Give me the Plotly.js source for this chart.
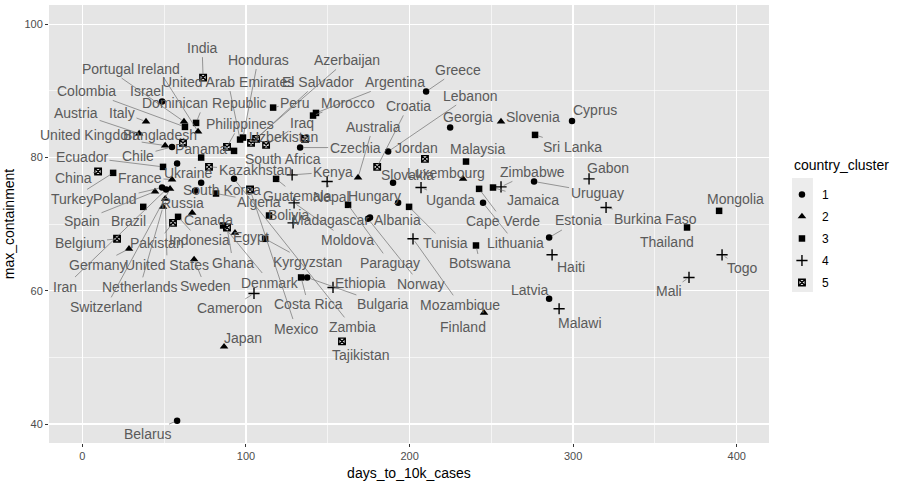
<!DOCTYPE html>
<html>
<head>
<meta charset="utf-8">
<script src="https://cdn.plot.ly/plotly-3.0.1.min.js"></script>
<style>html,body{margin:0;padding:0;background:#fff}#chart{width:898px;height:485px}</style>
</head>
<body>
<div id="chart"></div>
<script>
// ---- data ----
const countries = ["India","Portugal","Ireland","Honduras","Azerbaijan","United Arab Emirates","El Salvador","Argentina","Greece","Colombia",
"Israel","Dominican Republic","Peru","Morocco","Lebanon","Croatia","Austria","Italy","Philippines","Iraq",
"Georgia","Slovenia","Cyprus","United Kingdom","Bangladesh","Uzbekistan","Australia","Sri Lanka","Czechia","Jordan",
"Malaysia","Ecuador","Chile","Panama","South Africa","China","France","Ukraine","Kazakhstan","Kenya",
"Slovakia","Luxembourg","Zimbabwe","Gabon","Turkey","Poland","Russia","South Korea","Guatemala","Nepal",
"Hungary","Uganda","Jamaica","Uruguay","Algeria","Spain","Brazil","Canada","Bolivia","Madagascar",
"Albania","Cape Verde","Estonia","Burkina Faso","Mongolia","Belgium","Pakistan","Indonesia","Egypt","Moldova",
"Tunisia","Lithuania","Thailand","Germany","United States","Ghana","Kyrgyzstan","Paraguay","Botswana","Haiti",
"Togo","Iran","Netherlands","Sweden","Denmark","Ethiopia","Norway","Mozambique","Latvia","Mali",
"Switzerland","Cameroon","Costa Rica","Bulgaria","Malawi","Mexico","Zambia","Finland","Tajikistan","Japan","Belarus"];

const days_to_10k_cases = [73.8,62.1,70.7,98.2,103.1,96.4,106.2,142.8,210.1,62.7,
48.7,69.5,116.6,141.0,186.9,180.2,34.7,38.9,88.4,112.3,
224.8,255.9,299.3,50.6,61.5,136.1,168.5,276.7,133.1,209.4,
234.5,49.3,54.8,72.6,92.7,9.6,54.8,57.9,77.4,128.2,
189.9,232.7,255.9,309.7,18.8,48.7,68.9,72.6,118.4,149.6,
193.0,207.0,251.0,276.1,81.7,44.4,37.2,67.1,114.1,128.8,
175.8,242.5,285.3,320.1,389.2,21.2,55.4,58.5,93.3,129.4,
199.7,244.9,369.6,28.5,50.6,88.4,111.7,162.4,240.6,287.1,
391.0,51.2,49.3,68.3,86.0,153.2,174.6,202.1,285.3,370.8,
53.6,104.9,133.7,137.4,291.4,102.5,92.7,245.5,158.7,86.6,57.9];

const max_containment = [92.0,85.4,83.9,83.0,82.2,82.7,82.8,86.7,89.9,84.6,
88.4,85.2,87.5,86.3,80.9,78.6,83.6,85.4,81.6,81.9,
84.5,85.4,85.5,81.8,82.2,82.8,77.0,83.4,81.5,79.8,
79.4,78.6,81.6,80.0,81.0,77.9,76.7,79.1,78.6,77.4,
76.2,76.8,75.6,76.8,77.7,75.5,75.0,76.2,76.8,76.4,
73.2,75.5,75.5,76.4,74.6,74.9,72.6,71.7,71.3,70.2,
71.0,75.3,68.0,72.5,72.0,67.8,70.2,71.1,68.7,73.2,
72.6,73.2,69.5,66.3,73.8,69.5,67.8,72.9,66.8,65.4,
65.4,75.2,72.6,64.7,69.8,60.5,70.8,67.8,58.8,62.0,
75.3,59.6,62.0,62.0,57.3,75.2,76.8,56.7,52.4,51.6,40.5];

const country_cluster = [5,2,2,3,5,3,5,3,1,3,
1,3,3,3,1,5,2,2,5,5,
1,2,1,2,5,5,2,3,1,5,
3,3,1,3,3,5,2,1,5,4,
1,2,4,4,3,1,1,1,3,4,
1,4,3,1,3,2,3,2,3,4,
1,3,1,4,3,5,5,3,2,4,
3,1,3,2,2,5,3,3,3,4,
4,1,2,2,3,4,1,4,1,4,
2,4,3,1,4,5,1,2,5,2,1];

const cluster_levels = ["1","2","3","4","5"];
const x_ticks = [0,100,200,300,400];
const y_ticks = [40,60,80,100];

// ---- label placement (pixel offsets of repelled labels from their points) ----
const label_dx = [-1,-76,-40,15,96,-12,62,79,32,-98,
-15,8,22,35,82,31,-63,-24,13,36,
18,32,23,-75,-23,-22,15,37,55,-8,
11,-81,-34,0,49,-25,-32,11,46,41,
14,-17,31,19,-41,-47,-13,21,21,4,
-24,29,40,63,43,-73,-15,16,19,37,
28,24,29,49,16,-37,-16,21,16,53,
36,32,-20,-31,2,6,42,42,4,19,
20,-101,-23,11,47,27,52,47,-19,-20,
-64,-24,7,76,21,46,118,-21,19,19,-30];
const label_dy = [-30,-53,-63,-78,-83,-58,-57,-31,-22,-36,
-11,-20,-5,-13,-56,-61,-21,-9,-23,-22,
-11,-5,-11,-11,-8,-2,-51,12,0,-11,
-13,-10,9,-9,8,6,-2,9,3,-3,
-8,-6,-15,-11,26,11,12,7,17,15,
-7,12,12,11,8,29,14,7,-1,-3,
2,32,-17,11,-12,4,20,23,4,37,
36,40,14,16,66,35,23,58,18,12,
13,97,80,27,57,-4,65,66,-9,14,
118,15,27,27,14,139,148,14,14,-9,13];

const symbols = {"1":"circle","2":"triangle-up","3":"square","4":"cross-thin","5":"square-x-open"};
const sizes = {"1":6.5,"2":7.5,"3":6.5,"4":8,"5":6.5};

const traces = cluster_levels.map(function(lv){
  const xs=[], ys=[], tx=[];
  country_cluster.forEach(function(c,i){ if(String(c)===lv){ xs.push(days_to_10k_cases[i]); ys.push(max_containment[i]); tx.push(countries[i]); }});
  const open = (lv==="4"||lv==="5");
  return {
    type:"scatter", mode:"markers", x:xs, y:ys, text:tx, name:lv,
    legendgroup:"g"+lv,
    marker:{symbol:symbols[lv], size:sizes[lv], color:"#000",
            line:{color:"#000", width: open?1.4:0}},
    hoverinfo:"text+x+y", cliponaxis:false
  };
});

const annotations = countries.map(function(name,i){
  const dx = label_dx[i], dy = label_dy[i];
  const hw = 3.6*name.length, hh = 8;
  const gx = Math.max(0, Math.abs(dx)-hw), gy = Math.max(0, Math.abs(dy)-hh);
  const far = Math.sqrt(gx*gx+gy*gy) > 6;
  return {
    x: days_to_10k_cases[i], y: max_containment[i], xref:"x", yref:"y",
    text: name, showarrow:true, ax: dx, ay: dy, axref:"pixel", ayref:"pixel",
    arrowhead:0, arrowwidth:0.7, standoff:3,
    arrowcolor: far ? "#707070" : "rgba(0,0,0,0)",
    font:{family:"Liberation Sans, Arial, sans-serif", size:14, color:"#5a5a5a"}
  };
});
annotations.push({
  xref:"paper", yref:"paper", x:1.032, y:0.635, xanchor:"left", yanchor:"middle",
  text:"country_cluster", showarrow:false,
  font:{family:"Liberation Sans, Arial, sans-serif", size:14, color:"#000"}
});

const layout = {
  width:898, height:485,
  margin:{l:49, r:129, t:5, b:42},
  paper_bgcolor:"#fff", plot_bgcolor:"#e5e5e5",
  font:{family:"Liberation Sans, Arial, sans-serif", color:"#4d4d4d"},
  showlegend:true,
  legend:{x:1.018, xanchor:"left", y:0.6005, yanchor:"top", bgcolor:"rgba(0,0,0,0)",
          tracegroupgap:3, itemwidth:30,
          font:{size:12, color:"#000"}},
  xaxis:{range:[-20.4,419.7], tickvals:x_ticks, ticktext:x_ticks.map(String),
         showgrid:true, gridcolor:"#fff", gridwidth:1.4, zeroline:false,
         ticks:"outside", ticklen:3, tickcolor:"#333", tickwidth:1,
         tickfont:{size:11, color:"#4d4d4d"},
         minor:{tick0:50, dtick:100, showgrid:true, gridcolor:"#fff", gridwidth:0.6},
         title:{text:"days_to_10k_cases", font:{size:14, color:"#000"}, standoff:6}},
  yaxis:{range:[37.15,102.9], tickvals:y_ticks, ticktext:y_ticks.map(String),
         showgrid:true, gridcolor:"#fff", gridwidth:1.4, zeroline:false,
         ticks:"outside", ticklen:3, tickcolor:"#333", tickwidth:1,
         tickfont:{size:11, color:"#4d4d4d"},
         minor:{tick0:50, dtick:20, showgrid:true, gridcolor:"#fff", gridwidth:0.6},
         title:{text:"max_containment", font:{size:14, color:"#000"}, standoff:6}},
  shapes:[{type:"rect", xref:"paper", yref:"paper", x0:1.032, x1:1.061, y0:0.345, y1:0.605,
           fillcolor:"#ececec", line:{width:0}, layer:"below"}],
  annotations: annotations
};

Plotly.newPlot("chart", traces, layout, {displayModeBar:false, staticPlot:true});
</script>
</body>
</html>
